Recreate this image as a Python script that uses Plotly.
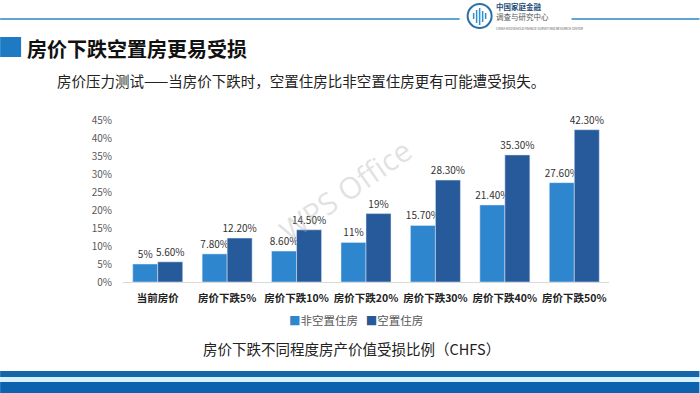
import plotly.graph_objects as go

categories = ["当前房价", "房价下跌5%", "房价下跌10%", "房价下跌20%", "房价下跌30%", "房价下跌40%", "房价下跌50%"]
non_vacant = [0.05, 0.078, 0.086, 0.11, 0.157, 0.214, 0.276]
vacant = [0.056, 0.122, 0.145, 0.19, 0.283, 0.353, 0.423]
non_vacant_text = ["5%", "7.80%", "8.60%", "11%", "15.70%", "21.40%", "27.60%"]
vacant_text = ["5.60%", "12.20%", "14.50%", "19%", "28.30%", "35.30%", "42.30%"]
series_names = ["非空置住房", "空置住房"]
y_ticks = [0, 0.05, 0.10, 0.15, 0.20, 0.25, 0.30, 0.35, 0.40, 0.45]

W, H = 700, 393
L, R, T, B = 123, 609.5, 120, 282

def px(x):
    return (x - L) / (R - L)

def py(y):
    return (B - y) / (B - T)

FONT = "Noto Sans CJK SC"
LIGHT = "#2E86CF"
DARK = "#275A9B"
COLORS = [LIGHT, DARK]

fig = go.Figure()
for vals, txt, name, col in [(non_vacant, non_vacant_text, series_names[0], LIGHT),
                             (vacant, vacant_text, series_names[1], DARK)]:
    fig.add_trace(go.Bar(x=categories, y=vals, name=name, marker_color=col,
                         text=txt, textposition="outside", cliponaxis=False, constraintext="none",
                         textfont=dict(size=10, color="#333333", family=FONT)))

shapes = []
shapes.append(dict(type="line", xref="paper", yref="paper", x0=px(0), x1=px(460), y0=py(19), y1=py(19),
                   line=dict(color="#2D86C3", width=1.5)))
shapes.append(dict(type="line", xref="paper", yref="paper", x0=px(572), x1=px(700), y0=py(19), y1=py(19),
                   line=dict(color="#2D86C3", width=1.5)))
shapes.append(dict(type="circle", xref="paper", yref="paper", x0=px(468), x1=px(492), y0=py(4), y1=py(28),
                   line=dict(color="#2B6FA8", width=2), fillcolor="white"))
for i, (h0, h1) in enumerate([(13, 19), (10, 23), (8, 25), (11, 22), (13, 19)]):
    xx = 474 + i * 3
    shapes.append(dict(type="line", xref="paper", yref="paper", x0=px(xx), x1=px(xx), y0=py(h0), y1=py(h1),
                       line=dict(color="#2B8FD0", width=1.5)))
shapes.append(dict(type="rect", xref="paper", yref="paper", x0=px(0), x1=px(21), y0=py(37), y1=py(57),
                   fillcolor="#1F7AC4", line=dict(width=0)))
shapes.append(dict(type="rect", xref="paper", yref="paper", x0=px(0), x1=px(700), y0=py(371), y1=py(377),
                   fillcolor="#1565A8", line=dict(width=0)))
shapes.append(dict(type="rect", xref="paper", yref="paper", x0=px(0), x1=px(700), y0=py(377), y1=py(382),
                   fillcolor="#D6F3FB", line=dict(width=0)))
shapes.append(dict(type="rect", xref="paper", yref="paper", x0=px(0), x1=px(700), y0=py(382), y1=py(393),
                   fillcolor="#0D62B0", line=dict(width=0)))

legend_text = "   ".join(f"<span style='color:{c}'>■</span>{n}" for c, n in zip(COLORS, series_names))

annotations = [
    dict(text="<b>房价下跌空置房更易受损</b>", x=px(25), y=py(48), xanchor="left", yanchor="middle",
         font=dict(size=20, color="#111111", family=FONT)),
    dict(text="房价压力测试——当房价下跌时，空置住房比非空置住房更有可能遭受损失。", x=px(55), y=py(80),
         xanchor="left", yanchor="middle", font=dict(size=14.5, color="#222222", family=FONT)),
    dict(text=legend_text, x=px(356), y=py(320), xanchor="center", yanchor="middle",
         font=dict(size=11.5, color="#595959", family=FONT)),
    dict(text="房价下跌不同程度房产价值受损比例（CHFS）", x=px(352), y=py(348), xanchor="center", yanchor="middle",
         font=dict(size=14.5, color="#222222", family=FONT)),
    dict(text="<span style='color:#1F4E79'><b>中国家庭金融</b></span><br>调查与研究中心<br>"
              "<span style='font-size:3px'>CHINA HOUSEHOLD FINANCE SURVEY AND RESEARCH CENTER</span>",
         x=px(495), y=py(16), xanchor="left", yanchor="middle", align="left", borderpad=0,
         font=dict(size=7.5, color="#555555", family=FONT)),
    dict(text="WPS Office", x=px(345), y=py(190), xanchor="center", yanchor="middle", textangle=-35,
         font=dict(size=30, color="rgba(170,170,170,0.35)", family="Open Sans")),
]
for a in annotations:
    a.update(xref="paper", yref="paper", showarrow=False)

fig.update_layout(
    width=W, height=H,
    margin=dict(l=L, r=W - R, t=T, b=H - B, pad=0, autoexpand=False),
    paper_bgcolor="white", plot_bgcolor="white",
    barmode="group", bargap=0.28, bargroupgap=0,
    font=dict(family=FONT),
    showlegend=False,
    xaxis=dict(showgrid=False, showline=True, linecolor="#D9D9D9", linewidth=1, ticks="",
               tickangle=0, automargin=False,
               tickfont=dict(size=10.5, color="#222222", family=FONT), ticklabelstandoff=6,
               tickprefix="<b>", ticksuffix="</b>"),
    yaxis=dict(range=[0, 0.45], tickvals=y_ticks, tickformat=".0%", showgrid=False, zeroline=False,
               showline=False, ticks="", ticklabelstandoff=10, automargin=False,
               tickfont=dict(size=10, color="#595959", family=FONT)),
    shapes=shapes, annotations=annotations,
)

fig.write_html("out.html", config={"displayModeBar": False},
               post_script="document.body.style.margin='0';")
